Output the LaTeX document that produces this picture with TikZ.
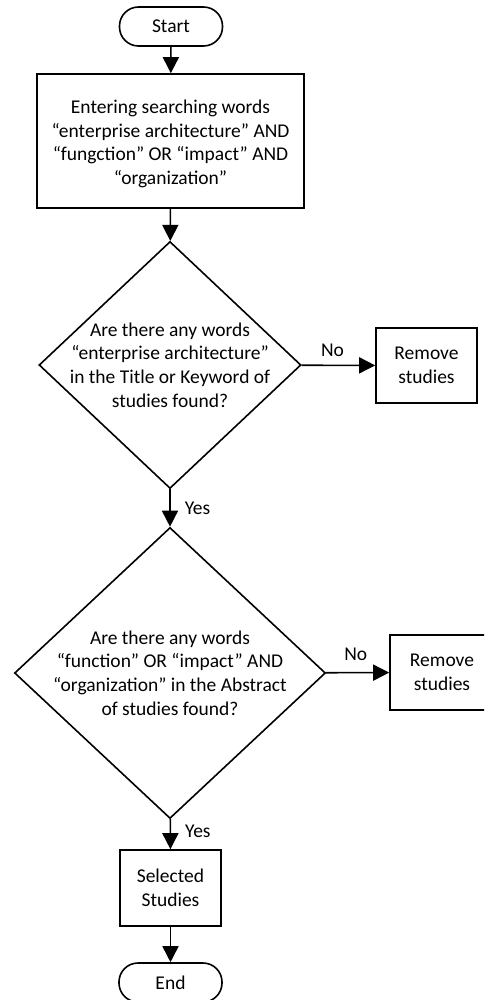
\documentclass[tikz,border=0pt]{standalone}
\usepackage{fontspec}
\setmainfont{Carlito}
\usetikzlibrary{shapes.geometric,arrows.meta}
\begin{document}
\begin{tikzpicture}[x=1pt,y=-1pt,
  every node/.style={font=\fontsize{19.5}{23.8}\selectfont, align=center, inner sep=0pt},
  shp/.style={draw, line width=1.6pt, fill=white},
  term/.style={shp, rounded corners=19pt, minimum width=103pt, minimum height=39pt},
  proc/.style={shp, rectangle},
  dec/.style={shp, diamond, inner sep=0pt},
  arr/.style={line width=1.6pt, -{Triangle[length=16pt,width=16pt]}},
  lbl/.style={font=\fontsize{19.5}{22}\selectfont}
]
\clip (0,0) rectangle (484,1000);
\fill[white] (0,0) rectangle (484,1000);

\node[term] (start) at (171,26.5) {Start};
\node[proc, minimum width=267pt, minimum height=134pt] (b1) at (170.5,141) {};
\node at ([yshift=-3pt]b1.center)
  {Entering searching words\\“enterprise architecture” AND\\“fungction” OR “impact” AND\\“organization”};
\node[dec, minimum width=262pt, minimum height=247pt] (d1) at (170,365) {};
\node at (d1.center) {Are there any words\\“enterprise architecture”\\in the Title or Keyword of\\studies found?};
\node[proc, minimum width=101pt, minimum height=75pt] (r1) at (426.5,365.5) {Remove\\studies};
\node[dec, minimum width=311pt, minimum height=291pt] (d2) at (170,673) {};
\node at (d2.center) {Are there any words\\“function” OR “impact” AND\\“organization” in the Abstract\\of studies found?};
\node[proc, minimum width=104pt, minimum height=75pt] (r2) at (442,672.5) {Remove\\studies};
\node[proc, minimum width=101pt, minimum height=76pt] (sel) at (170.5,888) {Selected\\Studies};
\node[term] (end) at (170.5,982.5) {End};

\draw[arr] (start) -- (b1);
\draw[arr] (b1) -- (d1);
\draw[arr] (d1) -- node[lbl, pos=0.52, right=14pt] {Yes} (d2);
\draw[arr] (d1) -- node[lbl, pos=0.42, above=8pt] {No} (r1);
\draw[arr] (d2) -- node[lbl, pos=0.47, above=11pt] {No} (r2);
\draw[arr] (d2) -- node[lbl, pos=0.4, right=14pt] {Yes} (sel);
\draw[arr] (sel) -- (end);
\end{tikzpicture}
\end{document}
